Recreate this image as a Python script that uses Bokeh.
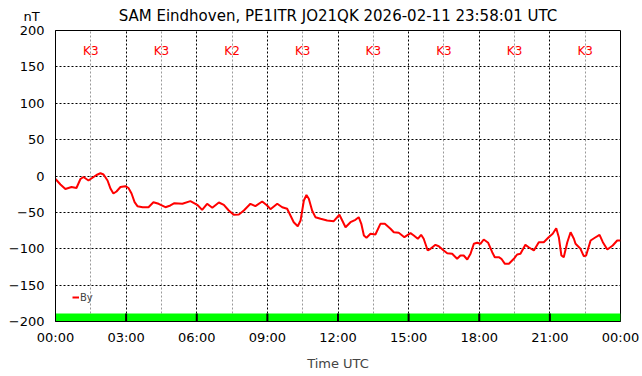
from bokeh.plotting import figure
from bokeh.models import (FixedTicker, Label, Legend, LegendItem, ColumnDataSource,
                          Range1d)
from bokeh.embed import file_html
from bokeh.resources import INLINE
from bokeh.core.properties import value

TITLE = "SAM Eindhoven, PE1ITR JO21QK 2026-02-11 23:58:01 UTC"
UNIT = "nT"
X_LABEL = "Time UTC"
SERIES_NAME = "By"

hours = [0.00, 0.21, 0.42, 0.68, 0.89, 1.06, 1.19, 1.40, 1.74, 1.91, 2.04, 2.21, 2.34, 2.46,
         2.59, 2.76, 2.97, 3.10, 3.23, 3.36, 3.48, 3.70, 3.95, 4.16, 4.38, 4.67, 4.88, 5.05,
         5.39, 5.73, 6.02, 6.23, 6.44, 6.66, 6.94, 7.15, 7.36, 7.57, 7.79, 8.00, 8.28, 8.49,
         8.78, 8.99, 9.13, 9.42, 9.63, 9.84, 9.98, 10.12, 10.29, 10.41, 10.55, 10.66, 10.76,
         10.90, 11.04, 11.26, 11.54, 11.82, 12.06, 12.18, 12.32, 12.53, 12.74, 12.88, 12.99,
         13.10, 13.21, 13.38, 13.59, 13.80, 13.99, 14.23, 14.37, 14.58, 14.82, 15.08, 15.22,
         15.39, 15.53, 15.64, 15.81, 15.93, 16.14, 16.28, 16.49, 16.64, 16.85, 17.06, 17.20,
         17.34, 17.49, 17.63, 17.77, 17.91, 18.05, 18.19, 18.38, 18.55, 18.66, 18.83, 18.94,
         19.09, 19.26, 19.47, 19.61, 19.75, 19.96, 20.10, 20.32, 20.53, 20.74, 20.95, 21.12,
         21.27, 21.38, 21.49, 21.59, 21.74, 21.88, 22.02, 22.09, 22.30, 22.44, 22.54, 22.73,
         22.91, 23.11, 23.25, 23.44, 23.67, 23.86, 24.00]

by_nT = [-4.1, -11.7, -17.9, -15.1, -16.5, -4.1, -1.4, -6.2, 1.4, 3.8, 2.1, -6.2, -17.6, -24.1,
         -21.3, -15.1, -14.0, -16.5, -24.1, -36.0, -41.5, -42.9, -42.9, -36.0, -38.2, -42.9, -40.5, -37.4,
         -38.2, -34.6, -39.6, -46.5, -38.2, -43.7, -36.4, -39.6, -47.4, -53.3, -52.9, -47.4, -38.2, -41.5,
         -35.1, -40.5, -45.6, -38.2, -42.9, -45.1, -54.3, -63.5, -69.0, -61.2, -33.7, -26.1, -31.3,
         -47.4, -56.6, -58.8, -61.2, -62.1, -53.3, -61.2, -70.4, -63.5, -60.2, -56.6, -65.7,
         -81.8, -84.9, -79.4, -80.4, -65.7, -65.7, -72.6, -77.3, -78.1, -84.1, -78.6, -81.8,
         -86.3, -80.8, -86.3, -102.4, -100.1, -94.6, -96.5, -102.4, -106.1, -106.9, -113.8, -109.3,
         -109.3, -114.8, -106.9, -93.2, -91.8, -93.2, -87.3, -91.8, -104.7, -111.6, -111.6, -113.8,
         -120.7, -120.7, -113.8, -107.9, -106.9, -94.6, -97.9, -102.4, -91.0, -91.0, -84.1, -79.4,
         -71.8, -84.1, -109.3, -111.6, -91.0, -77.3, -86.3, -93.2, -100.1, -110.2, -109.3, -88.7,
         -84.9, -80.8, -91.0, -101.0, -95.5, -88.7, -88.7]

k_start = [0, 3, 6, 9, 12, 15, 18, 21]
k_index = [3, 3, 2, 3, 3, 3, 3, 3]
k_labels = ["K%d" % k for k in k_index]

x_ticks = [0, 3, 6, 9, 12, 15, 18, 21, 24]
x_tick_labels = ["00:00", "03:00", "06:00", "09:00", "12:00", "15:00", "18:00", "21:00", "00:00"]
x_minor = [1.5, 4.5, 7.5, 10.5, 13.5, 16.5, 19.5, 22.5]
y_ticks = [-200, -150, -100, -50, 0, 50, 100, 150, 200]

FONT = "DejaVu Sans"
K_BAND = 3.0
BAR_BOTTOM = -200
BAR_TOP = -189
K_TEXT_Y = 172

p = figure(frame_width=565, frame_height=291, output_backend="svg", toolbar_location=None,
           x_range=Range1d(0, 24), y_range=Range1d(-200, 200), title=None,
           min_border_left=55, min_border_right=22, min_border_top=30, min_border_bottom=55)
p.background_fill_color = "white"
p.border_fill_color = "white"
p.outline_line_color = "black"
p.outline_line_width = 1

# axes
p.xaxis.ticker = FixedTicker(ticks=x_ticks, minor_ticks=x_minor)
p.xaxis.major_label_overrides = {t: l for t, l in zip(x_ticks, x_tick_labels)}
p.yaxis.ticker = FixedTicker(ticks=y_ticks)
for ax in (p.xaxis, p.yaxis):
    ax.major_tick_out = 0
    ax.major_tick_in = 0
    ax.minor_tick_out = 0
    ax.minor_tick_in = 0
    ax.axis_line_color = "black"
    ax.major_label_text_font = FONT
    ax.major_label_text_font_size = "13px"
    ax.major_label_text_color = "black"
p.xaxis.major_label_standoff = 8
p.yaxis.major_label_standoff = 11
p.xaxis.axis_label = X_LABEL
p.xaxis.axis_label_text_font = FONT
p.xaxis.axis_label_text_font_size = "13px"
p.xaxis.axis_label_text_font_style = "normal"
p.xaxis.axis_label_standoff = 8

# grids
p.xgrid.ticker = FixedTicker(ticks=x_ticks, minor_ticks=x_minor)
p.xgrid.grid_line_color = "black"
p.xgrid.grid_line_dash = "2 2"
p.xgrid.minor_grid_line_color = "#999999"
p.xgrid.minor_grid_line_dash = "2 2"
p.ygrid.ticker = FixedTicker(ticks=y_ticks)
p.ygrid.grid_line_color = "black"
p.ygrid.grid_line_dash = "2 2"

# K index bars
ksrc = ColumnDataSource(dict(left=k_start, right=[s + K_BAND for s in k_start],
                             mid=[s + K_BAND / 2 for s in k_start], lab=k_labels))
p.quad(left="left", right="right", bottom=BAR_BOTTOM, top=BAR_TOP, source=ksrc,
       fill_color="#00ff00", line_color=None)
p.segment(x0=k_start[1:], x1=k_start[1:], y0=[BAR_BOTTOM] * 7, y1=[BAR_TOP] * 7,
          line_color="black", line_width=2)
p.text(x="mid", y=K_TEXT_Y, text="lab", source=ksrc, text_color="red",
       text_font=value(FONT), text_font_size="12px", text_align="center",
       text_baseline="middle")

# data line
r = p.line(hours, by_nT, line_color="red", line_width=2)

legend = Legend(items=[LegendItem(label=SERIES_NAME, renderers=[r])], location=(17, 18),
                padding=0, margin=0, border_line_color=None, background_fill_alpha=0,
                glyph_width=7, glyph_height=12, label_standoff=1, label_height=12,
                label_text_font=FONT, label_text_font_size="10px", label_text_baseline="middle")
p.add_layout(legend, "center")

# title and unit label, outside the frame (side panels so they are not clipped)
p.add_layout(Label(x=337.5, y=15, x_units="canvas", y_units="canvas", text=TITLE,
                   text_font=FONT, text_font_size="15px", text_align="center",
                   text_baseline="alphabetic", text_color="black"), "above")
p.add_layout(Label(x=31, y=16, x_units="canvas", y_units="canvas", text=UNIT,
                   text_font=FONT, text_font_size="13px", text_align="center",
                   text_baseline="alphabetic", text_color="black"), "right")

open("out.html", "w").write(file_html(p, INLINE))
